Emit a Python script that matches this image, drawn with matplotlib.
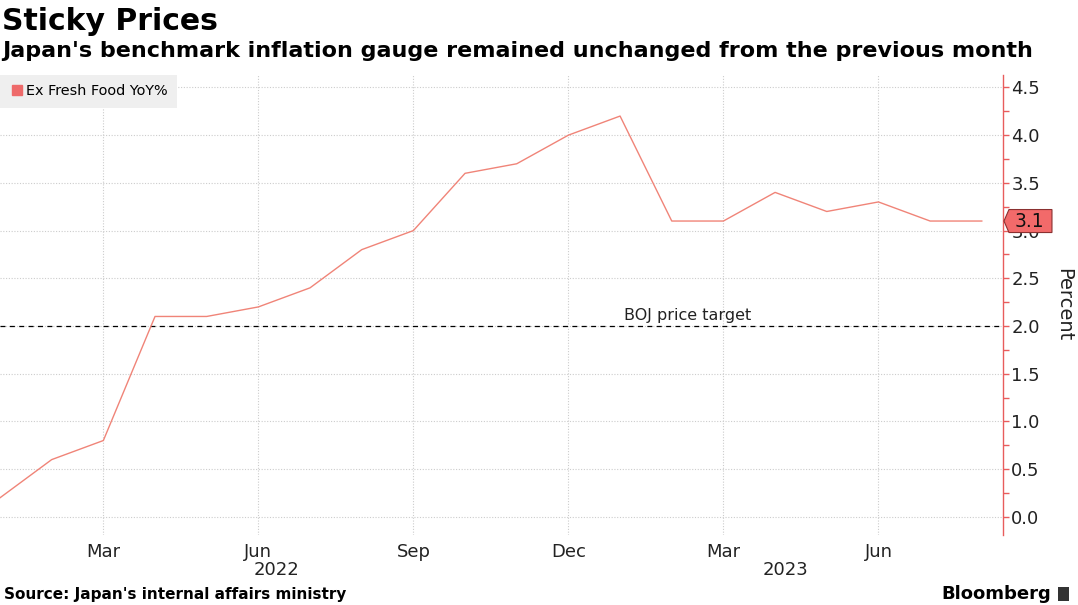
import matplotlib.pyplot as plt
from matplotlib.lines import Line2D
from matplotlib.patches import Polygon, Rectangle
import numpy as np

# monthly Japan core CPI (ex fresh food), YoY %
months = ["2022-01", "2022-02", "2022-03", "2022-04", "2022-05", "2022-06",
          "2022-07", "2022-08", "2022-09", "2022-10", "2022-11", "2022-12",
          "2023-01", "2023-02", "2023-03", "2023-04", "2023-05", "2023-06",
          "2023-07", "2023-08"]
values = [0.2, 0.6, 0.8, 2.1, 2.1, 2.2, 2.4, 2.8, 3.0, 3.6, 3.7, 4.0,
          4.2, 3.1, 3.1, 3.4, 3.2, 3.3, 3.1, 3.1]
month_names = {"03": "Mar", "06": "Jun", "09": "Sep", "12": "Dec"}
years = ["2022", "2023"]
year_pos = [5.35, 15.2]
y_ticks = [0.0, 0.5, 1.0, 1.5, 2.0, 2.5, 3.0, 3.5, 4.0, 4.5]
boj_target = 2.0

line_color = "#f08478"
axis_red = "#e85c5c"

x = np.arange(len(months))
tick_pos = [i for i, m in enumerate(months) if m[5:] in month_names]
tick_lab = [month_names[months[i][5:]] for i in tick_pos]

fig = plt.figure(figsize=(10.78, 6.05), dpi=100)
ax = fig.add_axes([0.0, 0.1157, 0.9304, 0.7603])

ax.plot(x, values, color=line_color, lw=1.0, zorder=3)
ax.set_xlim(0, 19.41)
ax.set_ylim(-0.19, 4.63)

# BOJ target line
ax.axhline(boj_target, color="black", lw=0.9, ls=(0, (4, 3.5)), zorder=2)
ax.text(13.3, boj_target + 0.03, "BOJ price target", ha="center", va="bottom",
        fontsize=11.5, color="#222222")

# axes styling
for s in ["left", "top", "bottom"]:
    ax.spines[s].set_visible(False)
ax.spines["right"].set_color(axis_red)
ax.spines["right"].set_linewidth(1.0)

ax.yaxis.tick_right()
ax.yaxis.set_label_position("right")
ax.set_yticks(y_ticks)
ax.set_yticklabels([f"{v:.1f}" for v in y_ticks])
ax.set_yticks(np.array(y_ticks[:-1]) + 0.25, minor=True)
ax.tick_params(axis="y", which="both", direction="out", color=axis_red,
               length=4, width=1, labelsize=13, pad=2, labelcolor="#222222")
ax.set_ylabel("Percent", rotation=270, fontsize=14, labelpad=24, color="#222222")

ax.set_xticks(tick_pos)
ax.set_xticklabels(tick_lab)
ax.tick_params(axis="x", length=0, labelsize=13, pad=6, labelcolor="#222222")

ax.grid(axis="both", linestyle=(0, (1, 1.5)), color="#cccccc", lw=0.8, zorder=0)

for yr, p in zip(years, year_pos):
    ax.text(p, -0.076, yr, transform=ax.get_xaxis_transform(), ha="center",
            va="center", fontsize=13, color="#222222")

# legend
handle = Line2D([], [], marker="s", color="#ee6a6a", ls="none", markersize=7.5)
leg = ax.legend([handle], ["Ex Fresh Food YoY%"], loc="upper left",
                frameon=True, facecolor="#efefef", edgecolor="none",
                fancybox=False, borderaxespad=0, fontsize=10.4,
                handletextpad=0.15, handlelength=1.0, borderpad=0.65)
leg.get_frame().set_alpha(1)

# last value tag
fig.canvas.draw()
px = ax.transAxes.transform((1, 0))[0]
py = ax.transData.transform((0, values[-1]))[1]
verts = [(px + 1, py), (px + 6, py + 11.5), (px + 49, py + 11.5),
         (px + 49, py - 11.5), (px + 6, py - 11.5)]
tag = Polygon(verts, closed=True, transform=None, facecolor="#f26a6a",
              edgecolor="#8a3030", lw=0.8, zorder=10, clip_on=False)
fig.add_artist(tag)
fig.text((px + 26) / fig.bbox.width, py / fig.bbox.height, f"{values[-1]:.1f}",
         ha="center", va="center", fontsize=13.5, color="#111111", zorder=11)

# titles and footer
fig.text(0.002, 0.988, "Sticky Prices", fontsize=21.5, fontweight="bold", va="top")
fig.text(0.002, 0.933,
         "Japan's benchmark inflation gauge remained unchanged from the previous month",
         fontsize=16, fontweight="bold", va="top")
fig.text(0.004, 0.017, "Source: Japan's internal affairs ministry", fontsize=11,
         fontweight="bold", va="center")
fig.text(0.975, 0.018, "Bloomberg", fontsize=13, fontweight="bold", va="center",
         ha="right")
fig.add_artist(Rectangle((0.981, 0.007), 0.011, 0.022, transform=fig.transFigure,
                         facecolor="#333333", edgecolor="none"))

fig.savefig("out.png", dpi=100)
